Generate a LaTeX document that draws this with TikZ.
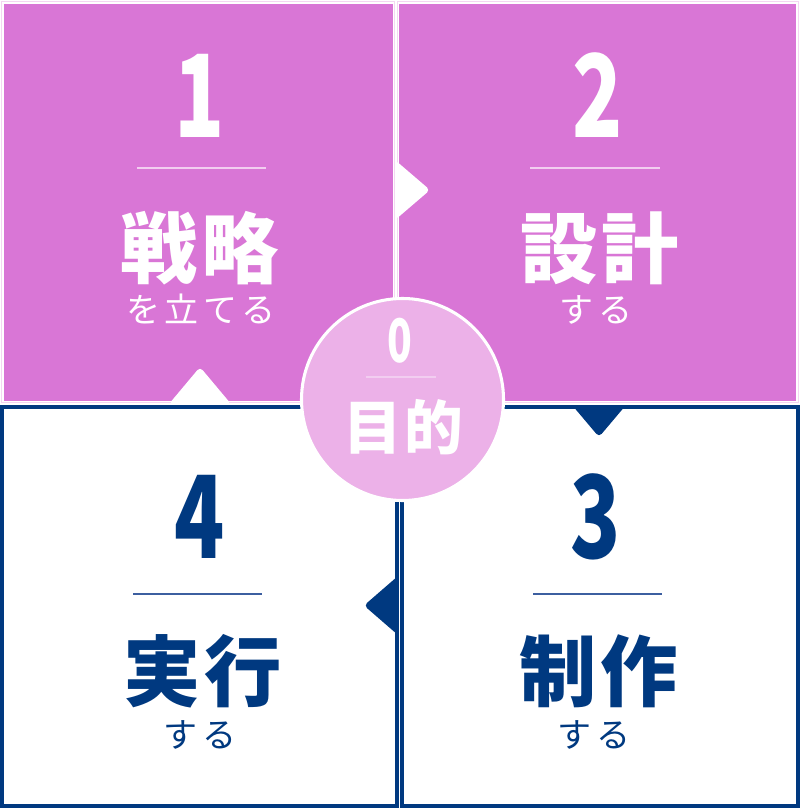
\documentclass[tikz,border=0pt]{standalone}
\usepackage{fontspec}
\usepackage{graphicx}
\newfontfamily\jpfont{Noto Sans CJK JP}
\definecolor{mag}{RGB}{217,118,214}
\definecolor{magedge}{RGB}{244,214,242}
\definecolor{circ}{RGB}{236,177,232}
\definecolor{navy}{RGB}{0,57,128}
\definecolor{navyline}{RGB}{60,95,160}
\definecolor{pinkline}{RGB}{242,205,240}
\tikzset{
  magbox/.style={fill=mag},
  navybox/.style={draw=navy, line width=3pt, fill=white},
  tipw/.style={fill=white, rounded corners=3pt},
  tipn/.style={fill=navy, rounded corners=3pt},
  digit/.style={anchor=base, inner sep=0pt, font=\jpfont\bfseries\fontsize{86}{86}\selectfont},
  head/.style={anchor=base, inner sep=0pt, font=\jpfont\bfseries\fontsize{58}{58}\selectfont},
  sub/.style={anchor=base, inner sep=0pt, font=\jpfont\fontsize{25.5}{25.5}\selectfont},
  sep/.style={line width=0.9pt}
}
\begin{document}
\begin{tikzpicture}[x=0.75pt,y=-0.75pt]
\useasboundingbox (0,0) rectangle (800,812);
\fill[white] (0,0) rectangle (800,812);
% top boxes
\draw[magedge, line width=0.75pt] (1.5,1.5) rectangle (394.5,402.5);
\draw[magedge, line width=0.75pt] (397.5,1.5) rectangle (798.5,402.5);
\path[magbox] (4,4) rectangle (393,401) coordinate (b1);
\path[magbox] (399,4) rectangle (796,401) coordinate (b2);
% bottom boxes
\draw[navybox] (2,407) rectangle (396.5,806);
\draw[navybox] (401.5,407) rectangle (798,806);
% arrows
\fill[tipw] (395,160) -- (430,190) -- (395,220) -- cycle;
\fill[tipn] (572,405) -- (626,405) -- (599,437) -- cycle;
\fill[tipn] (398,576) -- (398,635) -- (364,605.5) -- cycle;
\fill[tipw] (169,404) -- (231,404) -- (200,367) -- cycle;
% box 1
\node[digit, text=white] (n1) at (200,138) {\scalebox{0.72}[1]{1}};
\draw[sep, pinkline] (137,168) -- (266,168);
\node[head, text=white] (h1) at (200,278) {戦\kern3pt 略};
\node[sub, text=white] (s1) at (201,322) {を\kern3.5pt 立\kern3.5pt て\kern3.5pt る};
% box 2
\node[digit, text=white] (n2) at (598,138) {\scalebox{0.72}[1]{2}};
\draw[sep, pinkline] (530,168) -- (660,168);
\node[head, text=white] (h2) at (600,278) {設\kern3pt 計};
\node[sub, text=white] (s2) at (596,322) {す\kern3.5pt る};
% box 3
\node[digit, text=navy] (n3) at (596,558) {\scalebox{0.72}[1]{3}};
\draw[sep, navyline] (533,594) -- (662,594);
\node[head, text=navy] (h3) at (599,700) {制\kern3pt 作};
\node[sub, text=navy] (s3) at (594,747) {す\kern3.5pt る};
% box 4
\node[digit, text=navy] (n4) at (200,558) {\scalebox{0.72}[1]{4}};
\draw[sep, navyline] (133,594) -- (262,594);
\node[head, text=navy] (h4) at (203,700) {実\kern3pt 行};
\node[sub, text=navy] (s4) at (200,747) {す\kern3.5pt る};
% centre circle
\draw[fill=circ, draw=white, line width=2.3pt] (402.5,399.5) circle (101);
\node[anchor=base, inner sep=0pt, text=white, font=\jpfont\bfseries\fontsize{45}{45}\selectfont] (n0) at (400,362) {\scalebox{0.68}[1]{0}};
\draw[sep, pinkline] (366,377) -- (436,377);
\node[anchor=base, inner sep=0pt, text=white, font=\jpfont\bfseries\fontsize{44}{44}\selectfont] (h0) at (403,449) {目\kern2pt 的};
\end{tikzpicture}
\end{document}
